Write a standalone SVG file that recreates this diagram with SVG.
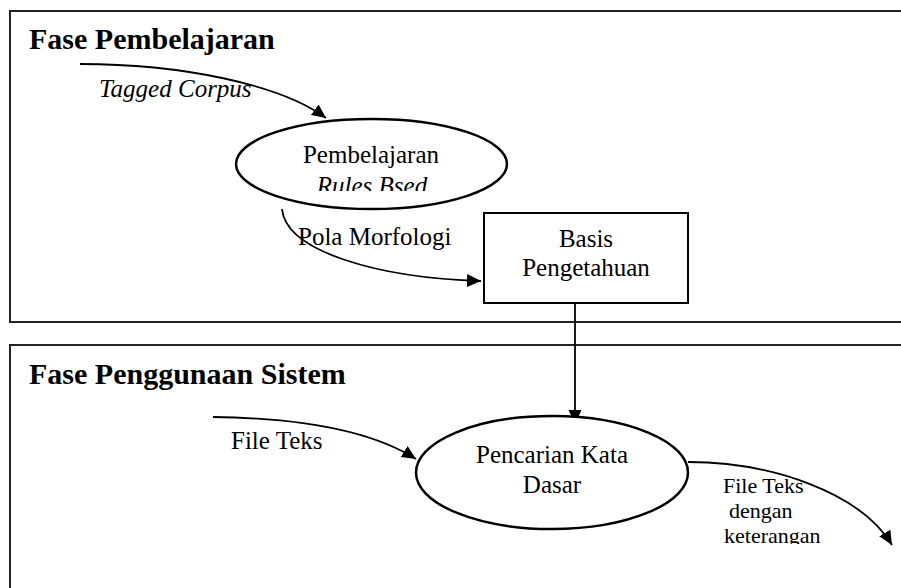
<svg xmlns="http://www.w3.org/2000/svg" width="901" height="588" viewBox="0 0 901 588">
  <style>
    .frame { fill: none; stroke: #222; stroke-width: 2; }
    .node { fill: #fff; stroke: #000; stroke-width: 2.5; }
    .box { fill: #fff; stroke: #000; stroke-width: 2; }
    .edge { fill: none; stroke: #000; stroke-width: 1.8; }
    .title { font-family: "Liberation Serif", "Times New Roman", serif; font-weight: bold; font-size: 30px; fill: #000; }
    .lbl { font-family: "Liberation Serif", "Times New Roman", serif; font-size: 25px; fill: #000; }
    .sm { font-family: "Liberation Serif", "Times New Roman", serif; font-size: 22px; fill: #000; }
    .it { font-style: italic; }
  </style>
  <defs>
    <marker id="arrow" markerUnits="userSpaceOnUse" markerWidth="16" markerHeight="14" refX="14" refY="6.5" orient="auto">
      <path d="M0,0 L14,6.5 L0,13 z" fill="#000"/>
    </marker>
    <clipPath id="clipRules">
      <rect x="250" y="170" width="250" height="21"/>
    </clipPath>
    <clipPath id="clipOut">
      <rect x="700" y="470" width="180" height="74"/>
    </clipPath>
  </defs>

  <!-- phase frames -->
  <g id="phase-learning">
    <rect class="frame" x="10" y="11" width="900" height="311"/>
    <text class="title" x="29" y="49">Fase Pembelajaran</text>
  </g>
  <g id="phase-usage">
    <rect class="frame" x="10" y="345" width="900" height="260"/>
    <text class="title" x="29" y="384">Fase Penggunaan Sistem</text>
  </g>

  <!-- connectors -->
  <g id="connectors">
    <path class="edge" d="M80,64 C180,64 280,84 326,118" marker-end="url(#arrow)"/>
    <path class="edge" d="M282,209 C286,252 380,278 481,281" marker-end="url(#arrow)"/>
    <path class="edge" d="M575,303 L575,424" marker-end="url(#arrow)"/>
    <path class="edge" d="M213,417 C300,418 370,430 416,459" marker-end="url(#arrow)"/>
    <path class="edge" d="M688,462 C770,462 860,492 892,545" marker-end="url(#arrow)"/>
    <text class="lbl it" x="99" y="97">Tagged Corpus</text>
    <text class="lbl" x="298" y="245">Pola Morfologi</text>
    <text class="lbl" x="231" y="449">File Teks</text>
    <g clip-path="url(#clipOut)">
      <text class="sm" x="723" y="493">File Teks</text>
      <text class="sm" x="729" y="518">dengan</text>
      <text class="sm" x="724" y="543">keterangan</text>
    </g>
  </g>

  <!-- nodes -->
  <g id="node-learning">
    <ellipse class="node" cx="371.5" cy="164" rx="135.5" ry="45"/>
    <text class="lbl" x="371" y="163" text-anchor="middle">Pembelajaran</text>
    <g clip-path="url(#clipRules)">
      <text class="lbl it" x="372" y="194" text-anchor="middle">Rules Bsed</text>
    </g>
  </g>
  <g id="node-knowledge">
    <rect class="box" x="484" y="213" width="204" height="90"/>
    <text class="lbl" x="586" y="247" text-anchor="middle">Basis</text>
    <text class="lbl" x="586" y="276" text-anchor="middle">Pengetahuan</text>
  </g>
  <g id="node-search">
    <ellipse class="node" cx="552" cy="472.5" rx="136" ry="56.5"/>
    <text class="lbl" x="552" y="463" text-anchor="middle">Pencarian Kata</text>
    <text class="lbl" x="552" y="493" text-anchor="middle">Dasar</text>
  </g>
</svg>
